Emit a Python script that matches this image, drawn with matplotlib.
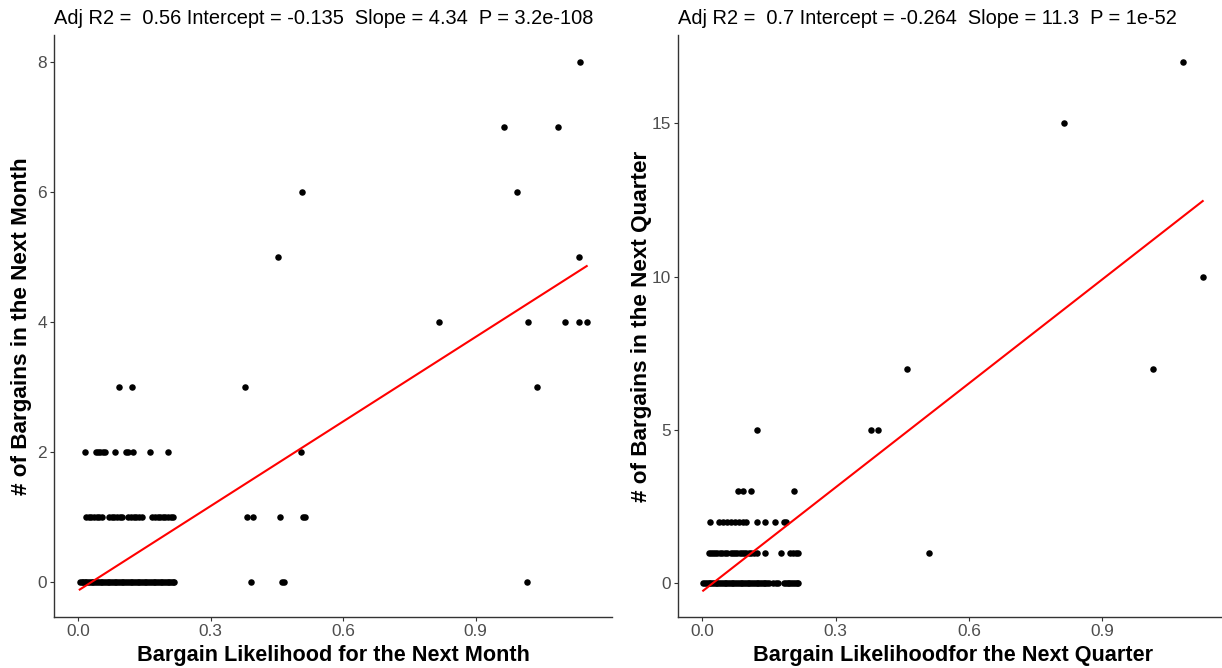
import numpy as np
import matplotlib
matplotlib.use("Agg")
import matplotlib.pyplot as plt

plt.rcParams["font.family"] = ["Liberation Sans", "DejaVu Sans"]

# ---- Next month: bargain likelihood grouped by observed bargain count ----
month_at_0 = [0.004, 0.008, 0.011, 0.015, 0.019, 0.023, 0.027, 0.031, 0.035, 0.039,
              0.043, 0.047, 0.051, 0.055, 0.059, 0.063, 0.067, 0.071, 0.075, 0.079,
              0.083, 0.087, 0.091, 0.095, 0.099, 0.103, 0.107, 0.111, 0.115, 0.119,
              0.123, 0.127, 0.131, 0.135, 0.139, 0.143, 0.147, 0.151, 0.155, 0.159,
              0.163, 0.167, 0.171, 0.175, 0.179, 0.183, 0.187, 0.191, 0.195, 0.199,
              0.203, 0.207, 0.211, 0.215, 0.218, 0.391, 0.461, 0.466, 1.017]
month_at_1 = [0.018, 0.024, 0.030, 0.036, 0.042, 0.048, 0.054, 0.070, 0.076, 0.082,
              0.088, 0.094, 0.100, 0.114, 0.120, 0.126, 0.132, 0.138, 0.144, 0.168,
              0.174, 0.180, 0.186, 0.192, 0.198, 0.204, 0.210, 0.216, 0.383, 0.395,
              0.457, 0.510, 0.514]
month_at_2 = [0.016, 0.040, 0.045, 0.050, 0.056, 0.062, 0.084, 0.108, 0.114, 0.125,
              0.162, 0.203, 0.505]
month_at_3 = [0.092, 0.122, 0.378, 1.039]
month_at_4 = [0.817, 1.019, 1.103, 1.134, 1.151]
month_at_5 = [0.452, 1.133]
month_at_6 = [0.507, 0.994]
month_at_7 = [0.964, 1.087]
month_at_8 = [1.136]
month_groups = {0: month_at_0, 1: month_at_1, 2: month_at_2, 3: month_at_3,
                4: month_at_4, 5: month_at_5, 6: month_at_6, 7: month_at_7,
                8: month_at_8}
month_fit = {"adj_r2": "0.56", "intercept": -0.135, "slope": 4.34, "p": "3.2e-108"}

# ---- Next quarter ----
quarter_at_0 = [0.002, 0.006, 0.010, 0.014, 0.018, 0.022, 0.026, 0.030, 0.034, 0.038,
                0.042, 0.046, 0.050, 0.054, 0.058, 0.062, 0.066, 0.070, 0.074, 0.078,
                0.082, 0.086, 0.090, 0.094, 0.098, 0.102, 0.106, 0.110, 0.114, 0.118,
                0.122, 0.126, 0.130, 0.134, 0.138, 0.142, 0.146, 0.150, 0.160, 0.165,
                0.170, 0.184, 0.188, 0.192, 0.196, 0.200, 0.204, 0.208, 0.212, 0.216]
quarter_at_1 = [0.014, 0.019, 0.024, 0.029, 0.034, 0.039, 0.044, 0.050, 0.055, 0.064,
                0.069, 0.074, 0.079, 0.084, 0.089, 0.094, 0.099, 0.104, 0.110, 0.116,
                0.122, 0.141, 0.176, 0.198, 0.204, 0.210, 0.216, 0.509]
quarter_at_2 = [0.017, 0.038, 0.047, 0.055, 0.064, 0.074, 0.083, 0.092, 0.098, 0.123,
                0.141, 0.164, 0.184, 0.188]
quarter_at_3 = [0.080, 0.092, 0.110, 0.206]
quarter_at_5 = [0.123, 0.380, 0.395]
quarter_at_7 = [0.460, 1.015]
quarter_at_10 = [1.126]
quarter_at_15 = [0.814]
quarter_at_17 = [1.081]
quarter_groups = {0: quarter_at_0, 1: quarter_at_1, 2: quarter_at_2, 3: quarter_at_3,
                  5: quarter_at_5, 7: quarter_at_7, 10: quarter_at_10,
                  15: quarter_at_15, 17: quarter_at_17}
quarter_fit = {"adj_r2": "0.7", "intercept": -0.264, "slope": 11.3, "p": "1e-52"}

month_xticks = [0.0, 0.3, 0.6, 0.9]
month_yticks = [0, 2, 4, 6, 8]
quarter_xticks = [0.0, 0.3, 0.6, 0.9]
quarter_yticks = [0, 5, 10, 15]


def flatten(groups):
    xs, ys = [], []
    for count, vals in groups.items():
        xs.extend(vals)
        ys.extend([count] * len(vals))
    return np.array(xs), np.array(ys)


W, H = 1222, 668
fig = plt.figure(figsize=(W / 100, H / 100), dpi=100)


def px_axes(left, right, top, bottom):
    return fig.add_axes([left / W, 1 - bottom / H, (right - left) / W, (bottom - top) / H])


def panel(ax, groups, fit, xticks, yticks, xlim, ylim, xlabel, ylabel, ylab_x):
    x, y = flatten(groups)
    ax.scatter(x, y, s=22, color="black", linewidths=0, zorder=2)
    xs = np.linspace(x.min(), x.max(), 50)
    ax.plot(xs, fit["intercept"] + fit["slope"] * xs, color="#FF0000", lw=1.5, zorder=3)
    ax.set_xlim(*xlim)
    ax.set_ylim(*ylim)
    ax.set_xticks(xticks)
    ax.set_xticklabels([f"{t:.1f}" for t in xticks])
    ax.set_yticks(yticks)
    ax.set_yticklabels([str(t) for t in yticks])
    for s in ("top", "right"):
        ax.spines[s].set_visible(False)
    for s in ("left", "bottom"):
        ax.spines[s].set_color("#333333")
        ax.spines[s].set_linewidth(1.0)
    ax.tick_params(length=3, width=0.8, color="#333333", labelcolor="#4D4D4D",
                   labelsize=12.4, pad=2)
    title = (f"Adj R2 =  {fit['adj_r2']} Intercept = {fit['intercept']}  "
             f"Slope = {fit['slope']}  P = {fit['p']}")
    ax.set_title(title, loc="left", fontsize=14.4, pad=8)
    ax.set_xlabel(xlabel, fontsize=15.6, fontweight="bold")
    ax.xaxis.set_label_coords(0.5, -0.067)
    ax.xaxis.label.set_va("center")
    ax.set_ylabel(ylabel, fontsize=16.2, fontweight="bold")
    ax.yaxis.set_label_coords(ylab_x, 0.5)
    ax.yaxis.label.set_va("center")


axL = px_axes(54.1, 611.9, 35.4, 617)
panel(axL, month_groups, month_fit, month_xticks, month_yticks,
      (-0.054, 1.208), (-0.54, 8.41),
      "Bargain Likelihood for the Next Month", "# of Bargains in the Next Month",
      (22 - 54.1) / 557.8)

axR = px_axes(678.3, 1227.6, 35.4, 617)
panel(axR, quarter_groups, quarter_fit, quarter_xticks, quarter_yticks,
      (-0.054, 1.182), (-1.10, 17.86),
      "Bargain Likelihoodfor the Next Quarter", "# of Bargains in the Next Quarter",
      (642 - 678.3) / 549.3)

fig.savefig("out.png", dpi=100, facecolor="white")
